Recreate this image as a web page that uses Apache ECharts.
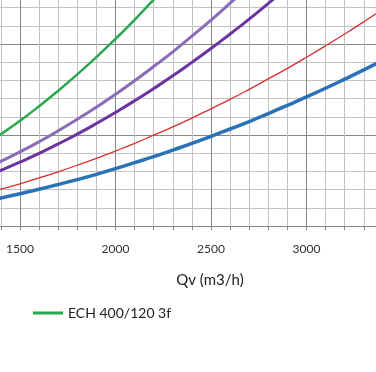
<!DOCTYPE html>
<html><head><meta charset="utf-8">
<script src="https://cdn.jsdelivr.net/npm/echarts@6/dist/echarts.min.js"></script>
<style>html,body{margin:0;padding:0;background:#fff}#c{width:376px;height:372px}</style>
</head><body><div id="c"></div>
<script>
const flows = [1300,1400,1500,1600,1700,1800,1900,2000,2100,2200,2300,2400,2500,2600,2700,2800,2900,3000,3100,3200,3300,3400,3500];
const greenVals = [43.4,50.4,57.8,65.8,74.3,83.3,92.8,102.8,113.3,124.4,136.0,148.0];
const lightPurpleVals = [30.6,35.5,40.7,46.3,52.3,58.6,65.3,72.4,79.8,87.6,95.7,104.3,113.1,122.4,131.9,141.9];
const darkPurpleVals = [26.4,30.6,35.1,39.9,45.1,50.5,56.3,62.4,68.8,75.5,82.5,89.9,97.5,105.5,113.7,122.3,131.2,140.4];
const redVals = [17.4,20.2,23.2,26.4,29.8,33.4,37.2,41.2,45.4,49.9,54.5,59.3,64.4,69.6,75.1,80.8,86.6,92.7,99.0,105.5,112.2,119.1,126.2];
const blueVals = [13.3,15.4,17.7,20.2,22.8,25.5,28.4,31.5,34.8,38.1,41.7,45.4,49.3,53.3,57.4,61.8,66.3,70.9,75.7,80.7,85.8,91.1,96.5];
const xTickLabels = [1500,2000,2500,3000];
const legendNames = ['ECH 400/120 3f'];

function pairs(vals){ return vals.map((v,i)=>[flows[i], v]); }
const FONT = 'Lato';
const chart = echarts.init(document.getElementById('c'));
const light = '#c2c2c2', dark = '#878787';
chart.setOption({
  animation:false,
  backgroundColor:'#fff',
  grid:{left:-18.2, top:-28.8, width:420.2, height:254.8, containLabel:false, outerBoundsMode:'none'},
  xAxis:{type:'value', min:1300, max:3500, interval:100,
    axisLine:{show:true, lineStyle:{color:dark, width:1}},
    axisTick:{show:true, length:4, lineStyle:{color:dark}},
    axisLabel:{interval:0, margin:17, color:'#303030', fontFamily:FONT, fontSize:12,
      formatter:v=> xTickLabels.includes(v) ? String(v) : ''},
    splitLine:{show:true, lineStyle:{color:[light,light,dark,light,light], width:1}}
  },
  yAxis:{type:'value', min:0, max:140, interval:10,
    axisLine:{show:false}, axisTick:{show:false}, axisLabel:{show:false},
    splitLine:{show:true, lineStyle:{color:[dark,light,light,light,light], width:1}}
  },
  legend:{data:legendNames, left:33, top:306, padding:0, itemWidth:30, itemHeight:3, icon:'rect',
    textStyle:{fontFamily:FONT, fontSize:14, color:'#202020'}},
  graphic:[{type:'text', x:210, y:280, style:{text:'Qv (m3/h)', align:'center', verticalAlign:'middle', fontFamily:FONT, fontSize:15, fill:'#202020'}}],
  series:[
    {name:'ECH 400/120 3f', type:'line', smooth:true, symbol:'none', data:pairs(greenVals), lineStyle:{color:'#27a84c', width:2.5}, itemStyle:{color:'#27a84c'}},
    {name:'s2', type:'line', smooth:true, symbol:'none', data:pairs(lightPurpleVals), lineStyle:{color:'#8a6bb8', width:3}},
    {name:'s3', type:'line', smooth:true, symbol:'none', data:pairs(darkPurpleVals), lineStyle:{color:'#6a35a0', width:3}},
    {name:'s4', type:'line', smooth:true, symbol:'none', data:pairs(redVals), lineStyle:{color:'#d9302a', width:1.3}},
    {name:'s5', type:'line', smooth:true, symbol:'none', data:pairs(blueVals), lineStyle:{color:'#2a72b8', width:3.5}}
  ]
});
</script></body></html>
